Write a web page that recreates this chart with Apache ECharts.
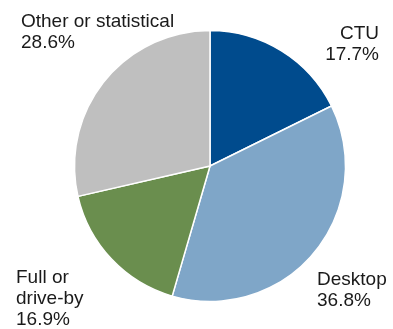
<!DOCTYPE html>
<html>
<head>
<meta charset="utf-8">
<script src="https://cdn.jsdelivr.net/npm/echarts@6/dist/echarts.min.js"></script>
<style>
  html, body { margin: 0; padding: 0; background: #fff; }
  #chart { width: 393px; height: 329px; }
</style>
</head>
<body>
<div id="chart"></div>
<script>
// Share of cases by type, in percent
const categories = ['CTU', 'Desktop', 'Full or drive-by', 'Other or statistical'];
const labelTexts = ['CTU', 'Desktop', 'Full or\ndrive-by', 'Other or statistical'];
const shares = [17.7, 36.8, 16.9, 28.6];
const colors = ['#004B8D', '#7FA6C8', '#6A8E4E', '#BFBFBF'];

// Where each label sits (x, y of the text block, alignment)
const labelSpots = [
  { x: 379, y: 23, align: 'right' },
  { x: 317, y: 269, align: 'left' },
  { x: 16, y: 267, align: 'left' },
  { x: 21, y: 11, align: 'left' }
];

const chart = echarts.init(document.getElementById('chart'), null, { renderer: 'canvas' });

chart.setOption({
  animation: false,
  series: [{
    type: 'pie',
    center: [210, 166],
    radius: [0, 135.5],
    startAngle: 90,
    clockwise: true,
    itemStyle: { borderColor: '#ffffff', borderWidth: 1.5 },
    label: {
      show: true,
      position: 'outside',
      fontFamily: 'Liberation Sans, Arial, sans-serif',
      fontSize: 19,
      lineHeight: 21,
      width: 220,
      overflow: 'none',
      color: '#1a1a1a',
      formatter: p => labelTexts[p.dataIndex] + '\n' + p.value.toFixed(1) + '%'
    },
    labelLine: { show: false },
    labelLayout: p => ({
      x: labelSpots[p.dataIndex].x,
      y: labelSpots[p.dataIndex].y,
      align: labelSpots[p.dataIndex].align,
      verticalAlign: 'top',
      hideOverlap: false
    }),
    emphasis: { disabled: true },
    data: categories.map((name, i) => ({
      name: name,
      value: shares[i],
      itemStyle: { color: colors[i] }
    }))
  }]
});
</script>
</body>
</html>
